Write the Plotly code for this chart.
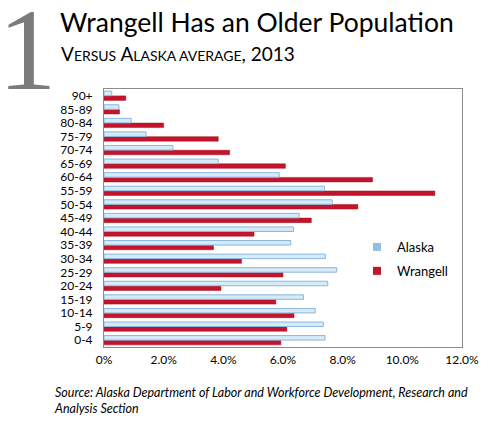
import plotly.graph_objects as go

age_groups = ["0-4", "5-9", "10-14", "15-19", "20-24", "25-29", "30-34", "35-39",
              "40-44", "45-49", "50-54", "55-59", "60-64", "65-69", "70-74",
              "75-79", "80-84", "85-89", "90+"]
alaska = [7.41, 7.35, 7.08, 6.69, 7.50, 7.80, 7.42, 6.26, 6.35, 6.54,
          7.65, 7.39, 5.87, 3.83, 2.31, 1.41, 0.91, 0.50, 0.26]
wrangell = [5.93, 6.13, 6.37, 5.76, 3.92, 6.00, 4.61, 3.67, 5.03, 6.95,
            8.51, 11.09, 9.00, 6.08, 4.21, 3.83, 2.00, 0.52, 0.73]
series_names = ["Alaska", "Wrangell"]
x_ticks = [0, 2, 4, 6, 8, 10, 12]
x_tick_labels = ["0%", "2.0%", "4.0%", "6.0%", "8.0%", "10.0%", "12.0%"]

W, H = 500, 422
L, R, T, B = 104, 462, 89, 347

def px(x):
    return (x - L) / (R - L)

def py(y):
    return (B - y) / (B - T)

FONT = "Lato"
ALASKA_FILL = "#d4ebf8"
ALASKA_LINE = "#8db6dc"
ALASKA_KEY = "#93bfe0"
WRANGELL = "#c3142d"

fig = go.Figure()
fig.add_trace(go.Bar(
    y=age_groups, x=wrangell, orientation="h", name=series_names[1],
    marker=dict(color=WRANGELL, line=dict(color="#a8101f", width=0.5)),
    showlegend=False,
))
fig.add_trace(go.Bar(
    y=age_groups, x=alaska, orientation="h", name=series_names[0],
    marker=dict(color=ALASKA_FILL, line=dict(color=ALASKA_LINE, width=1)),
    showlegend=False,
))
# legend keys (small squares as in the original)
fig.add_trace(go.Scatter(
    x=[None], y=[None], mode="markers", name=series_names[0],
    marker=dict(symbol="square", size=8, color=ALASKA_KEY),
    legendgroup="a", legendrank=1,
))
fig.add_trace(go.Scatter(
    x=[None], y=[None], mode="markers", name=series_names[1],
    marker=dict(symbol="square", size=8, color=WRANGELL),
    legendgroup="w", legendrank=2,
))

fig.update_layout(
    width=W, height=H,
    margin=dict(l=L, r=W - R, t=T, b=H - B, pad=0),
    paper_bgcolor="white", plot_bgcolor="white",
    barmode="group", bargap=0.3, bargroupgap=0.05,
    font=dict(family=FONT, color="#000000", size=12),
    showlegend=True,
    legend=dict(x=px(357), y=py(232), xanchor="left", yanchor="top",
                traceorder="grouped", tracegroupgap=4,
                font=dict(family=FONT, size=13, color="#000"),
                bgcolor="rgba(0,0,0,0)", itemwidth=30),
    xaxis=dict(range=[0, 12], tickvals=x_ticks, ticktext=x_tick_labels,
               showgrid=False, zeroline=False, showline=True,
               linecolor="#8c8c8c", linewidth=1, mirror=True,
               ticks="", ticklabelstandoff=2,
               tickfont=dict(family=FONT, size=12)),
    yaxis=dict(categoryorder="array", categoryarray=age_groups,
               tickmode="array", tickvals=age_groups, ticktext=age_groups,
               showgrid=False, zeroline=False, showline=True,
               linecolor="#8c8c8c", linewidth=1, mirror=True,
               ticks="", ticklabelstandoff=8,
               tickfont=dict(family=FONT, size=12)),
)

anns = [
    dict(text="1", x=px(27), y=py(49.5), xanchor="center", yanchor="middle",
         font=dict(family="Liberation Serif", size=117, color="#7b7b7b")),
    dict(text="Wrangell Has an Older Population", x=px(58), y=py(40),
         xanchor="left", yanchor="bottom",
         font=dict(family=FONT, size=26.5, color="#000")),
    dict(text="V<span style='font-size:14px'>ERSUS</span> A<span style='font-size:14px'>LASKA AVERAGE</span>, 2013",
         x=px(59), y=py(67), xanchor="left", yanchor="bottom",
         font=dict(family=FONT, size=19, color="#000")),
    dict(text="<i>Source: Alaska Department of Labor and Workforce Development, Research and<br>Analysis Section</i>",
         x=px(52), y=py(383), xanchor="left", yanchor="top", align="left",
         font=dict(family=FONT, size=12.5, color="#000")),
]
for a in anns:
    a.update(xref="paper", yref="paper", showarrow=False)
    fig.add_annotation(**a)

fig.write_html("out.html", post_script="document.body.style.margin='0';",
               config={"displayModeBar": False})
